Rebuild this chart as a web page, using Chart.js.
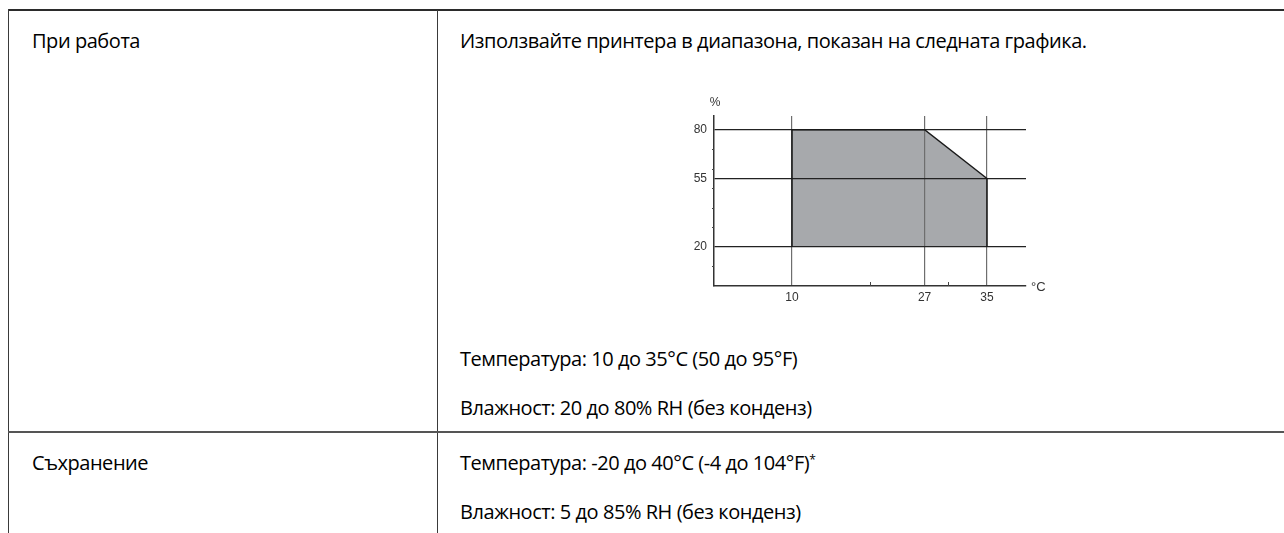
<!DOCTYPE html>
<html>
<head>
<meta charset="utf-8">
<script src="https://cdn.jsdelivr.net/npm/chart.js@4/dist/chart.umd.min.js"></script>
<style>
  html, body { margin: 0; padding: 0; background: #fff; }
  body { width: 1284px; height: 533px; position: relative; overflow: hidden;
    font-family: "Open Sans", "Noto Sans", sans-serif; color: #000; }
  .ln { position: absolute; background: #3a3a3a; }
  .t { position: absolute; font-size: 20px; line-height: 20px; white-space: nowrap; letter-spacing: -0.45px; }
  .t sup { font-size: 12px; position: relative; top: -3px; vertical-align: top; }
  #chartBox { position: absolute; left: 670px; top: 90px; width: 400px; height: 220px; }
</style>
</head>
<body>
  <div class="ln" style="left:8px; top:9px; right:0; height:2px; background:#2b2b2b"></div>
  <div class="ln" style="left:8px; top:9px; width:1px; bottom:0"></div>
  <div class="ln" style="left:437px; top:10px; width:1px; bottom:0"></div>
  <div class="ln" style="left:8px; top:431px; right:0; height:2px; background:#555"></div>

  <div class="t" style="left:32px; top:31px">При работа</div>
  <div class="t" style="left:460px; top:31px">Използвайте принтера в диапазона, показан на следната графика.</div>
  <div class="t" style="left:460px; top:349px">Температура: 10 до 35°C (50 до 95°F)</div>
  <div class="t" style="left:460px; top:398px">Влажност: 20 до 80% RH (без конденз)</div>

  <div class="t" style="left:32px; top:453px">Съхранение</div>
  <div class="t" style="left:460px; top:453px">Температура: -20 до 40°C (-4 до 104°F)<sup>*</sup></div>
  <div class="t" style="left:460px; top:502px">Влажност: 5 до 85% RH (без конденз)</div>

  <div id="chartBox"><canvas id="envChart" width="400" height="220"></canvas></div>

<script>
// operating range outline (temperature °C, humidity %); the bottom edge lies on the 20 % grid line
const rangeTemp = [10, 10, 27, 35, 35];
const rangeHumidity = [20, 80, 80, 55, 20];
const rangeFloor = 20;

// labelled ticks with grid lines
const tempTicks = [10, 27, 35];
const humidityTicks = [20, 55, 80];

// small unlabelled tick marks
const tempMinorTicks = [20, 30];
const humidityMinorTicks = [10, 30, 40, 50, 60, 70];

const tempMin = 0, tempMax = 40;
const humidityMin = 0, humidityMax = 87;

const tickFont = { family: '"Liberation Sans Narrow", "Liberation Sans", Arial, sans-serif', size: 12 };

const minorTicksPlugin = {
  id: 'minorTicks',
  afterDraw(chart) {
    const { ctx, scales: { x, y } } = chart;
    ctx.save();
    ctx.strokeStyle = '#444';
    ctx.lineWidth = 1;
    tempMinorTicks.forEach(v => {
      const px = Math.round(x.getPixelForValue(v)) + 0.5;
      ctx.beginPath();
      ctx.moveTo(px, y.bottom);
      ctx.lineTo(px, y.bottom - 4);
      ctx.stroke();
    });
    humidityMinorTicks.forEach(v => {
      const py = Math.round(y.getPixelForValue(v)) + 0.5;
      ctx.beginPath();
      ctx.moveTo(x.left - 2, py);
      ctx.lineTo(x.left, py);
      ctx.stroke();
    });
    // unit labels
    ctx.fillStyle = '#333';
    ctx.font = '12px ' + tickFont.family;
    ctx.textAlign = 'center';
    ctx.textBaseline = 'middle';
    ctx.fillText('%', x.left + 1, y.top - 13);
    ctx.textAlign = 'left';
    ctx.font = '13px ' + tickFont.family;
    ctx.fillText('°C', x.right + 5, y.bottom + 1);
    ctx.restore();
  }
};

new Chart(document.getElementById('envChart'), {
  type: 'line',
  data: {
    datasets: [{
      data: rangeTemp.map((t, i) => ({ x: t, y: rangeHumidity[i] })),
      borderColor: '#1a1a1a',
      borderWidth: 1.5,
      backgroundColor: '#a7a9ac',
      fill: { value: rangeFloor },
      pointRadius: 0,
      tension: 0
    }]
  },
  options: {
    responsive: false,
    animation: false,
    devicePixelRatio: 1,
    layout: { padding: { top: 26, right: 44, left: 0, bottom: 0 } },
    plugins: {
      legend: { display: false },
      tooltip: { enabled: false },
      // fill first, then grid lines, then the outline on top
      filler: { drawTime: 'beforeDraw' }
    },
    scales: {
      x: {
        type: 'linear',
        min: tempMin,
        max: tempMax,
        afterBuildTicks: s => { s.ticks = tempTicks.map(v => ({ value: v })); },
        afterFit: s => { s.height = 24; },
        grid: { color: '#6e6e6e', lineWidth: 1.2, drawTicks: false },
        border: { color: '#333', width: 1.5 },
        ticks: { padding: 4, font: tickFont, color: '#333', autoSkip: false, maxRotation: 0 }
      },
      y: {
        type: 'linear',
        min: humidityMin,
        max: humidityMax,
        afterBuildTicks: s => { s.ticks = humidityTicks.map(v => ({ value: v })); },
        afterFit: s => { s.width = 44; },
        grid: { color: '#222', lineWidth: 1.2, drawTicks: false },
        border: { color: '#333', width: 1.5 },
        ticks: { padding: 7, font: tickFont, color: '#333', autoSkip: false }
      }
    }
  },
  plugins: [minorTicksPlugin]
});
</script>
</body>
</html>
